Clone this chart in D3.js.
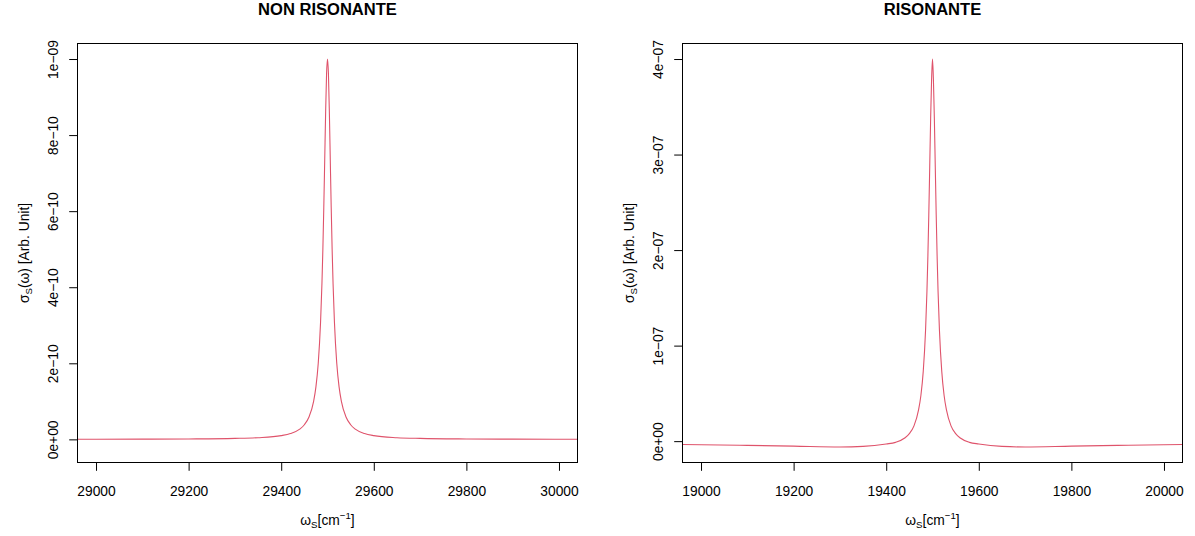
<!DOCTYPE html>
<html>
<head>
<meta charset="utf-8">
<script src="https://cdn.jsdelivr.net/npm/d3@7"></script>
<style>
  html, body { margin: 0; padding: 0; background: #fff; }
  svg text { font-family: "Liberation Sans", Arial, Helvetica, sans-serif; fill: #000; }
</style>
</head>
<body>
<svg id="chart" width="1195" height="536"></svg>
<script>
// ---------------- DATA ----------------
const panelTitles = ["NON RISONANTE", "RISONANTE"];

// Left panel: non-resonant cross section (values in units of 1e-9)
const leftX = [28960, 29000, 29100, 29200, 29300, 29350, 29400, 29420, 29440, 29450, 29460, 29470, 29475, 29480, 29485, 29488, 29490, 29492, 29494, 29496, 29498, 29500,
               29502, 29504, 29506, 29508, 29510, 29512, 29515, 29520, 29525, 29530, 29540, 29550, 29560, 29580, 29600, 29650, 29700, 29800, 29900, 30000, 30040];
const leftY = [0.00034, 0.0004, 0.000625, 0.0011, 0.0025, 0.0044, 0.0099, 0.0154, 0.027, 0.0385, 0.0588, 0.1, 0.138, 0.2, 0.308, 0.41, 0.5, 0.61, 0.735, 0.862, 0.962, 1.0,
               0.962, 0.862, 0.735, 0.61, 0.5, 0.41, 0.308, 0.2, 0.138, 0.1, 0.0588, 0.0385, 0.027, 0.0154, 0.0099, 0.0044, 0.0025, 0.0011, 0.000625, 0.0004, 0.00034];
const leftScale = 1e-9;

// Right panel: resonant cross section (values in units of 1e-7)
const rightX = [18960, 19000, 19100, 19200, 19300, 19350, 19400, 19420, 19440, 19450, 19460, 19470, 19475, 19480, 19485, 19488, 19490, 19492, 19494, 19496, 19498, 19500,
                19502, 19504, 19506, 19508, 19510, 19512, 19515, 19520, 19525, 19530, 19540, 19550, 19560, 19580, 19600, 19650, 19700, 19800, 19900, 20000, 20040];
const rightY = [-0.035, -0.037, -0.044, -0.052, -0.061, -0.055, -0.03, -0.013, 0.033, 0.079, 0.16, 0.33, 0.48, 0.73, 1.16, 1.57, 1.93, 2.37, 2.87, 3.38, 3.78, 4.0,
                3.78, 3.38, 2.87, 2.37, 1.93, 1.57, 1.16, 0.73, 0.48, 0.33, 0.16, 0.079, 0.033, -0.013, -0.03, -0.055, -0.061, -0.052, -0.044, -0.037, -0.035];
const rightScale = 1e-7;

// axis limits (as set in the original plot, before the 4% expansion)
const leftXLim = [29000, 30000];
const rightXLim = [19000, 20000];
const leftYLim = [-0.02e-9, 1.0e-9];
const rightYLim = [-0.061e-7, 4.0e-7];

// tick values and labels
const leftXTicks = [29000, 29200, 29400, 29600, 29800, 30000];
const rightXTicks = [19000, 19200, 19400, 19600, 19800, 20000];
const leftYTicks = [0, 2e-10, 4e-10, 6e-10, 8e-10, 1e-9];
const leftYTickLabels = ["0e+00", "2e\u221210", "4e\u221210", "6e\u221210", "8e\u221210", "1e\u221209"];
const rightYTicks = [0, 1e-7, 2e-7, 3e-7, 4e-7];
const rightYTickLabels = ["0e+00", "1e\u221207", "2e\u221207", "3e\u221207", "4e\u221207"];

// ---------------- DRAWING ----------------
const svg = d3.select("#chart");
const lineColor = "#DF536B";
const fontSize = 13.8;
const plotTop = 43.5, plotBottom = 462.5;

function expand(lim) {
  const d = (lim[1] - lim[0]) * 0.04;
  return [lim[0] - d, lim[1] + d];
}

function drawPanel(cfg) {
  const g = svg.append("g");
  const x = d3.scaleLinear().domain(expand(cfg.xLim)).range([cfg.left, cfg.right]);
  const y = d3.scaleLinear().domain(expand(cfg.yLim)).range([plotBottom, plotTop]);

  const pts = cfg.xs.map((v, i) => [v, cfg.ys[i] * cfg.yUnit]);

  g.append("path")
    .datum(pts)
    .attr("fill", "none")
    .attr("stroke", lineColor)
    .attr("stroke-width", 1.1)
    .attr("stroke-linejoin", "round")
    .attr("d", d3.line().x(d => x(d[0])).y(d => y(d[1])).curve(d3.curveMonotoneX));

  // box
  g.append("rect")
    .attr("x", cfg.left).attr("y", plotTop)
    .attr("width", cfg.right - cfg.left).attr("height", plotBottom - plotTop)
    .attr("fill", "none").attr("stroke", "#000").attr("stroke-width", 1);

  // x axis
  const xAxis = d3.axisBottom(x).tickValues(cfg.xTicks).tickSize(8.3).tickPadding(0).tickFormat(d3.format("d"));
  const gx = g.append("g").attr("transform", `translate(0,${plotBottom})`).call(xAxis);
  gx.select(".domain")
    .attr("d", `M${x(cfg.xTicks[0])},0H${x(cfg.xTicks[cfg.xTicks.length - 1])}`)
    .attr("stroke", "#000");
  gx.selectAll(".tick line").attr("stroke", "#000");
  gx.selectAll(".tick text")
    .attr("font-size", fontSize)
    .attr("font-family", "Liberation Sans, Arial, sans-serif")
    .attr("dy", null)
    .attr("y", 33);

  // y axis
  const yAxis = d3.axisLeft(y).tickValues(cfg.yTicks).tickSize(8.3).tickPadding(0)
    .tickFormat((d, i) => cfg.yTickLabels[i]);
  const gy = g.append("g").attr("transform", `translate(${cfg.left},0)`).call(yAxis);
  gy.select(".domain")
    .attr("d", `M0,${y(cfg.yTicks[0])}V${y(cfg.yTicks[cfg.yTicks.length - 1])}`)
    .attr("stroke", "#000");
  gy.selectAll(".tick line").attr("stroke", "#000");
  gy.selectAll(".tick text")
    .attr("font-size", fontSize)
    .attr("font-family", "Liberation Sans, Arial, sans-serif")
    .attr("x", null).attr("dy", null)
    .attr("text-anchor", "middle")
    .attr("transform", "translate(-20,0) rotate(-90)");

  const cx = (cfg.left + cfg.right) / 2;
  // title
  g.append("text")
    .attr("x", cx).attr("y", 14.5)
    .attr("text-anchor", "middle")
    .attr("font-weight", "bold")
    .attr("font-size", fontSize * 1.2)
    .text(cfg.title);

  // x label: ω_S[cm^-1]
  const xl = g.append("text")
    .attr("x", cx).attr("y", 525)
    .attr("text-anchor", "middle")
    .attr("font-size", fontSize);
  xl.append("tspan").text("\u03C9");
  xl.append("tspan").attr("font-size", fontSize * 0.7).attr("dy", 3).text("S");
  xl.append("tspan").attr("dy", -3).text("[cm");
  xl.append("tspan").attr("font-size", fontSize * 0.7).attr("dy", -6).text("\u22121");
  xl.append("tspan").attr("dy", 6).text("]");

  // y label: σ_S(ω) [Arb. Unit]
  const cy = (plotTop + plotBottom) / 2;
  const yl = g.append("text")
    .attr("transform", `translate(${cfg.left - 49},${cy}) rotate(-90)`)
    .attr("text-anchor", "middle")
    .attr("font-size", fontSize);
  yl.append("tspan").text("\u03C3");
  yl.append("tspan").attr("font-size", fontSize * 0.7).attr("dy", 3).text("S");
  yl.append("tspan").attr("dy", -3).text("(\u03C9) [Arb. Unit]");
}

drawPanel({
  title: panelTitles[0], left: 77.5, right: 577.5,
  xs: leftX, ys: leftY, yUnit: leftScale,
  xLim: leftXLim, yLim: leftYLim,
  xTicks: leftXTicks, yTicks: leftYTicks, yTickLabels: leftYTickLabels
});
drawPanel({
  title: panelTitles[1], left: 682.5, right: 1182.5,
  xs: rightX, ys: rightY, yUnit: rightScale,
  xLim: rightXLim, yLim: rightYLim,
  xTicks: rightXTicks, yTicks: rightYTicks, yTickLabels: rightYTickLabels
});
</script>
</body>
</html>
